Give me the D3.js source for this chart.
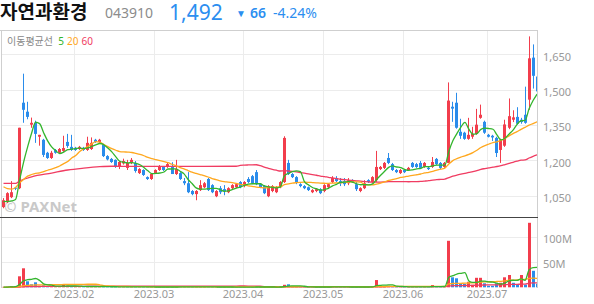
<!DOCTYPE html>
<html>
<head>
<meta charset="utf-8">
<script src="https://cdn.jsdelivr.net/npm/d3@7"></script>
<style>
  body { margin: 0; background: #fff; }
  svg { display: block; }
</style>
</head>
<body>
<div id="chart"></div>
<script>
// daily candles, 2023-01-04 .. 2023-07-19 (index = trading day)
const open = [1002,1023,1044,1084,1082,1444,1406,1351,1359,1300, 1287,1232,1210,1244,1232,1240,1278,1257,1253,1248,
  1253,1244,1248,1287,1278,1265,1218,1206,1202,1172, 1187,1168,1189,1189,1146,1159,1129,1121,1146,1159,
  1172,1172,1172,1142,1146,1112,1103,1070,1057,1074, 1086,1121,1095,1048,1082,1078,1065,1082,1086,1108,
  1091,1121,1133,1150,1099,1091,1048,1070,1065,1086, 1108,1189,1142,1129,1099,1091,1086,1065,1070,1078,
  1070,1086,1108,1125,1112,1112,1103,1116,1099,1070, 1082,1116,1108,1116,1163,1168,1210,1184,1159,1146,
  1159,1159,1189,1184,1189,1172,1168,1172,1206,1189, 1172,1189,1427,1444,1321,1317,1291,1300,1312,1380,
  1363,1308,1304,1295,1244,1262,1338,1372,1384,1372, 1393,1457,1635,1555];
const high = [1040,1065,1112,1086,1338,1567,1448,1381,1368,1308, 1291,1236,1240,1248,1252,1304,1312,1308,1257,1261,
  1257,1300,1297,1291,1291,1270,1222,1210,1204,1197, 1207,1202,1210,1197,1167,1162,1132,1146,1162,1180,
  1176,1192,1192,1202,1150,1125,1150,1074,1074,1116, 1108,1125,1099,1074,1091,1095,1086,1099,1103,1112,
  1112,1129,1138,1159,1103,1095,1095,1095,1091,1112, 1302,1202,1146,1133,1103,1095,1089,1078,1082,1082,
  1099,1103,1133,1133,1125,1125,1125,1120,1108,1086, 1116,1120,1133,1240,1176,1193,1231,1189,1163,1163,
  1163,1172,1193,1189,1197,1193,1172,1214,1210,1193, 1193,1530,1448,1486,1376,1321,1380,1342,1418,1436,
  1368,1312,1308,1300,1292,1372,1462,1412,1425,1380, 1512,1725,1691,1562];
const low = [997,1019,1040,1074,1078,1359,1374,1338,1274,1262, 1214,1206,1206,1228,1228,1236,1253,1240,1240,1244,
  1240,1240,1244,1274,1274,1214,1200,1189,1168,1163, 1182,1159,1184,1148,1142,1134,1117,1117,1142,1155,
  1155,1168,1142,1138,1117,1095,1061,1052,1031,1070, 1082,1070,1061,1044,1057,1052,1061,1078,1082,1082,
  1086,1103,1099,1095,1082,1057,1044,1065,1061,1082, 1104,1138,1125,1099,1086,1078,1070,1061,1065,1057,
  1065,1082,1104,1108,1091,1091,1095,1104,1070,1065, 1078,1104,1104,1108,1159,1163,1184,1155,1146,1142,
  1146,1155,1168,1168,1163,1168,1159,1168,1180,1163, 1168,1189,1363,1334,1291,1287,1287,1291,1308,1376,
  1312,1297,1282,1214,1189,1257,1332,1362,1351,1355, 1355,1414,1504,1482];
const close = [1031,1061,1065,1080,1338,1414,1384,1359,1312,1308, 1223,1210,1232,1232,1248,1252,1261,1244,1244,1257,
  1244,1274,1274,1278,1287,1218,1204,1193,1172,1193, 1197,1189,1202,1155,1163,1138,1121,1142,1159,1172,
  1159,1184,1142,1163,1121,1103,1065,1057,1070,1095, 1103,1074,1065,1070,1065,1070,1082,1095,1099,1086,
  1108,1108,1103,1099,1086,1061,1091,1091,1086,1108, 1295,1142,1129,1104,1091,1082,1074,1074,1078,1061,
  1095,1099,1125,1112,1103,1099,1116,1108,1078,1082, 1103,1108,1129,1172,1172,1189,1189,1159,1150,1159,
  1150,1168,1172,1172,1168,1189,1163,1193,1184,1168, 1189,1453,1419,1338,1304,1291,1308,1312,1351,1393,
  1317,1300,1297,1231,1287,1352,1387,1382,1355,1362, 1359,1632,1558,1492];
// volume, millions of shares
const volume = [0.8,1.2,2.5,1.5,22,38,12,6,10,3, 4,2,2,1.5,1.5,5,3,2,1.5,1.2,
  1,2.5,2,1.2,1,1.5,1,0.8,1,0.8, 0.6,0.7,0.6,0.9,0.6,0.7,0.8,0.6,0.5,0.6,
  0.5,0.6,0.7,0.8,0.7,0.8,1.2,0.7,0.8,0.7, 0.6,0.8,0.6,0.6,0.5,0.6,0.5,0.6,0.5,0.5,
  0.5,0.5,0.6,0.8,0.5,0.6,0.6,0.5,0.5,0.6, 5,6,2,1,0.8,0.6,0.6,0.5,0.5,0.6,
  0.7,0.6,0.9,0.6,0.6,0.7,0.6,0.5,0.7,0.5, 0.8,0.6,1,14.5,3,2.5,3,1.5,1,0.8,
  0.7,0.6,0.9,0.7,0.8,0.7,0.6,4.5,1,0.8, 1,93,20,18,8,7,11,5,19,19,
  8,3,3,8,9,20,24.6,9,6,24.6, 5,129,33,7];

// moving-average values before each window is full (history before the chart)
const ma5Lead = [[0,1025],[1,1026],[2,1028],[3,1034]];
const ma20Lead = [[0,1088],[1,1080],[2,1078],[3,1085],[4,1104],[5,1119],[6,1133],[7,1140],[8,1145],[9,1147],
  [10,1152],[11,1158],[12,1163],[13,1169],[14,1176],[15,1186],[16,1195],[17,1210],[18,1220]];
const ma60Lead = [[0,1102],[3,1102],[4,1112],[7,1130],[12,1146],[16,1159],[20,1167],[24,1173],[27,1175],
  [34,1174],[42,1174],[50,1174],[58,1175]];

const monthLabels = ["2023.02","2023.03","2023.04","2023.05","2023.06","2023.07"];
const monthStart = [18, 38, 60, 80, 100, 121];
const priceTicks = [1050, 1200, 1350, 1500, 1650];
const volumeTicks = [50, 100];

const W = 594, H = 304;
const left = 2, right = 537;
const RED = "#f23d4c", BLUE = "#2a8ceb";
const maColors = { 5: "#33b52d", 20: "#ffa81f", 60: "#f03c62" };

const svg = d3.select("#chart").append("svg")
  .attr("width", W).attr("height", H)
  .style("font-family", "'Noto Sans', sans-serif");

svg.append("defs").append("clipPath").attr("id", "plot")
  .append("rect").attr("x", left).attr("y", 30).attr("width", right - left).attr("height", 260);

const x = d3.scaleBand().domain(d3.range(close.length)).range([left, 538.6]).paddingInner(0.25).paddingOuter(0);
const y = d3.scaleLinear().domain([960, 1752]).range([217, 30]);
const yv = d3.scaleLinear().domain([0, 140.6]).range([287.3, 217]);
const bx = i => Math.round(x(i));
const cx = i => x(i) + x.bandwidth() / 2;

// header
const head = svg.append("g");
head.append("text").attr("x", 0).attr("y", 19).attr("font-size", 19).attr("font-weight", "bold")
  .attr("font-family", "'Noto Sans CJK KR'").attr("fill", "#111").text("자연과환경");
head.append("text").attr("x", 105).attr("y", 18).attr("font-size", 14).attr("fill", "#8c8c8c").text("043910");
head.append("text").attr("x", 169).attr("y", 19.5).attr("font-size", 21).attr("fill", "#2b8ef0").text("1,492");
head.append("text").attr("x", 236).attr("y", 17).attr("font-size", 10).attr("fill", "#2b8ef0").text("▼");
head.append("text").attr("x", 250).attr("y", 18).attr("font-size", 14).attr("font-weight", 600).attr("fill", "#2b8ef0").text("66");
head.append("text").attr("x", 273).attr("y", 18).attr("font-size", 14).attr("fill", "#2b8ef0").text("-4.24%");

// grid
const grid = svg.append("g").attr("stroke", "#ececec").attr("stroke-width", 1);
grid.selectAll(".pg").data(priceTicks).join("line")
  .attr("x1", left).attr("x2", right).attr("y1", d => Math.round(y(d)) + 0.5).attr("y2", d => Math.round(y(d)) + 0.5);
grid.selectAll(".vg").data(volumeTicks).join("line").attr("class", "vg")
  .attr("x1", left).attr("x2", right).attr("y1", d => Math.round(yv(d)) + 0.5).attr("y2", d => Math.round(yv(d)) + 0.5);
grid.selectAll(".mg").data(monthStart).join("line").attr("class", "mg")
  .attr("x1", d => bx(d) + 0.5).attr("x2", d => bx(d) + 0.5).attr("y1", 30).attr("y2", 288);

// watermark
svg.append("text").attr("x", 4).attr("y", 212).attr("font-size", 15).attr("font-weight", "bold")
  .attr("fill", "#c9c9c9").text("© PAXNet");

// frame
const frame = svg.append("g").attr("stroke", "#cfcfcf");
frame.append("line").attr("x1", 0).attr("x2", right).attr("y1", 30.5).attr("y2", 30.5);
frame.append("line").attr("x1", 1.5).attr("x2", 1.5).attr("y1", 30).attr("y2", 288);
frame.append("line").attr("x1", right + 0.5).attr("x2", right + 0.5).attr("y1", 30).attr("y2", 288);

// legend
const legend = svg.append("text").attr("x", 7).attr("y", 45).attr("font-size", 10);
legend.append("tspan").attr("fill", "#888").attr("font-family", "'Noto Sans CJK KR'").text("이동평균선 ");
[5, 20, 60].forEach(n => legend.append("tspan").attr("fill", maColors[n]).attr("dx", 3).text(n));

const plot = svg.append("g").attr("clip-path", "url(#plot)");

// volume bars, coloured against previous close
plot.append("g").selectAll("rect").data(volume).join("rect")
  .attr("x", (d, i) => bx(i)).attr("width", 3)
  .attr("y", d => yv(d)).attr("height", d => yv(0) - yv(d))
  .attr("fill", (d, i) => close[i] >= (i ? close[i - 1] : open[i]) ? RED : BLUE);

// candles
const candles = plot.append("g").selectAll("g").data(close).join("g");
candles.append("line")
  .attr("x1", (d, i) => bx(i) + 1.5).attr("x2", (d, i) => bx(i) + 1.5)
  .attr("y1", (d, i) => y(high[i])).attr("y2", (d, i) => y(low[i]))
  .attr("stroke", (d, i) => d >= open[i] ? RED : BLUE);
candles.append("rect")
  .attr("x", (d, i) => bx(i)).attr("width", 3)
  .attr("y", (d, i) => y(Math.max(d, open[i])))
  .attr("height", (d, i) => Math.max(1, Math.abs(y(open[i]) - y(d))))
  .attr("fill", (d, i) => d >= open[i] ? RED : BLUE);

// moving averages
function priceMA(n, lead) {
  const full = d3.range(n - 1, close.length).map(i => [i, d3.mean(close.slice(i - n + 1, i + 1))]);
  return lead.concat(full);
}
function volumeMA(n) {
  return d3.range(volume.length).map(i => [i, d3.sum(volume.slice(Math.max(0, i - n + 1), i + 1)) / n]);
}
const priceLine = d3.line().x(d => cx(d[0])).y(d => y(d[1])).curve(d3.curveMonotoneX);
const volLine = d3.line().x(d => cx(d[0])).y(d => yv(d[1])).curve(d3.curveMonotoneX);

[[60, ma60Lead], [20, ma20Lead], [5, ma5Lead]].forEach(([n, lead]) => {
  plot.append("path").datum(priceMA(n, lead))
    .attr("fill", "none").attr("stroke", maColors[n]).attr("stroke-width", 1.3).attr("d", priceLine);
});
[60, 20, 5].forEach(n => {
  plot.append("path").datum(volumeMA(n))
    .attr("fill", "none").attr("stroke", maColors[n]).attr("stroke-width", 1.3).attr("d", volLine);
});

// panel divider
svg.append("line").attr("x1", 0).attr("x2", right + 1).attr("y1", 217.5).attr("y2", 217.5).attr("stroke", "#444");

// right axes
const axisText = svg.append("g").attr("font-size", 11).attr("fill", "#999");
axisText.selectAll(".pl").data(priceTicks).join("text")
  .attr("x", 543).attr("y", d => y(d) + 6.5).text(d3.format(","));
axisText.selectAll(".vl").data(volumeTicks).join("text").attr("class", "vl")
  .attr("x", 543).attr("y", d => yv(d) + 5.5).text(d => d + "M");

// month labels
axisText.selectAll(".ml").data(monthStart).join("text").attr("class", "ml")
  .attr("x", d => bx(d)).attr("y", 297.5).attr("text-anchor", "middle")
  .text((d, i) => monthLabels[i]);
</script>
</body>
</html>
